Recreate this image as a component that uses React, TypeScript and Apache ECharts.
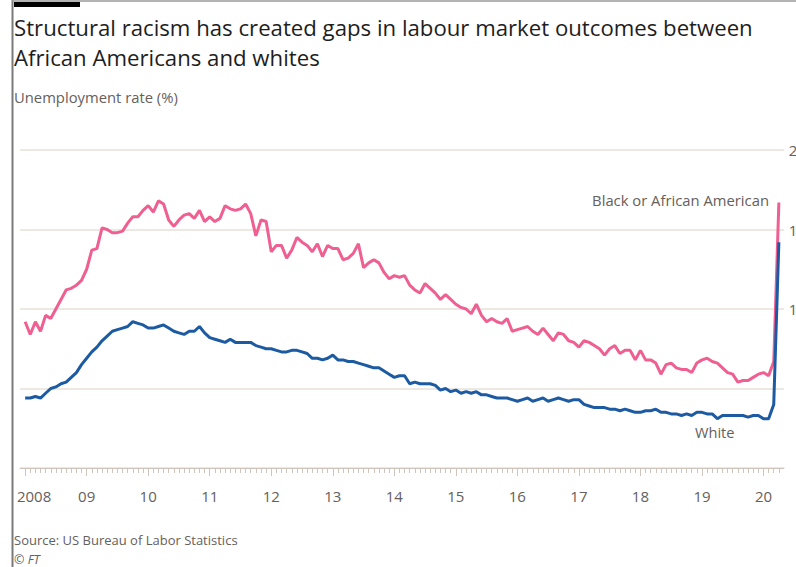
import React, { useEffect, useRef } from "react";
import * as echarts from "echarts";

// ---- data (monthly, Jan 2008 – Apr 2020, unemployment rate %) ----
const startYear = 2008;
const yTicks = [0, 5, 10, 15, 20];

const blackRate = [
  // 2008
  9.2, 8.4, 9.2, 8.6, 9.6, 9.4, 10.0, 10.6, 11.2, 11.3, 11.5, 11.8,
  // 2009
  12.5, 13.7, 13.8, 15.1, 15.0, 14.8, 14.8, 14.9, 15.4, 15.8, 15.8, 16.2,
  // 2010
  16.5, 16.1, 16.8, 16.6, 15.6, 15.2, 15.6, 15.9, 16.0, 15.7, 16.2, 15.5,
  // 2011
  15.8, 15.5, 15.7, 16.5, 16.3, 16.2, 16.3, 16.6, 16.0, 14.6, 15.6, 15.5,
  // 2012
  13.6, 14.0, 14.0, 13.2, 13.7, 14.5, 14.2, 14.0, 13.6, 14.1, 13.3, 14.0,
  // 2013
  13.8, 13.8, 13.1, 13.2, 13.5, 14.1, 12.6, 12.9, 13.1, 12.9, 12.3, 11.9,
  // 2014
  12.1, 12.0, 12.1, 11.5, 11.2, 11.0, 11.6, 11.3, 11.0, 10.6, 10.9, 10.6,
  // 2015
  10.3, 10.1, 10.0, 9.7, 10.3, 9.6, 9.2, 9.4, 9.2, 9.1, 9.4, 8.6,
  // 2016
  8.7, 8.8, 8.9, 8.6, 8.4, 8.8, 8.4, 8.0, 8.5, 8.4, 8.0, 7.9,
  // 2017
  7.6, 8.0, 7.9, 7.7, 7.5, 7.1, 7.5, 7.7, 7.2, 7.4, 7.4, 6.8,
  // 2018
  7.4, 6.8, 6.8, 6.6, 5.9, 6.5, 6.6, 6.3, 6.2, 6.2, 6.0, 6.6,
  // 2019
  6.8, 6.9, 6.7, 6.6, 6.3, 6.0, 5.9, 5.4, 5.5, 5.5, 5.7, 5.9,
  // 2020
  6.0, 5.8, 6.7, 16.7,
];

const whiteRate = [
  // 2008
  4.4, 4.4, 4.5, 4.4, 4.7, 5.0, 5.1, 5.3, 5.4, 5.7, 6.0, 6.5,
  // 2009
  6.9, 7.3, 7.6, 8.0, 8.3, 8.6, 8.7, 8.8, 8.9, 9.2, 9.1, 9.0,
  // 2010
  8.8, 8.8, 8.9, 9.0, 8.8, 8.6, 8.5, 8.4, 8.6, 8.6, 8.9, 8.5,
  // 2011
  8.2, 8.1, 8.0, 7.9, 8.1, 7.9, 7.9, 7.9, 7.9, 7.7, 7.6, 7.5,
  // 2012
  7.5, 7.4, 7.3, 7.3, 7.4, 7.4, 7.3, 7.2, 6.9, 6.9, 6.8, 6.9,
  // 2013
  7.1, 6.8, 6.8, 6.7, 6.7, 6.6, 6.5, 6.4, 6.3, 6.3, 6.1, 5.9,
  // 2014
  5.7, 5.8, 5.8, 5.3, 5.4, 5.3, 5.3, 5.3, 5.2, 4.9, 5.0, 4.8,
  // 2015
  4.9, 4.7, 4.8, 4.7, 4.8, 4.6, 4.6, 4.5, 4.4, 4.4, 4.4, 4.3,
  // 2016
  4.2, 4.3, 4.4, 4.2, 4.3, 4.4, 4.2, 4.3, 4.4, 4.3, 4.2, 4.3,
  // 2017
  4.3, 4.0, 3.9, 3.8, 3.8, 3.8, 3.7, 3.7, 3.6, 3.7, 3.6, 3.5,
  // 2018
  3.5, 3.6, 3.6, 3.7, 3.5, 3.5, 3.4, 3.4, 3.3, 3.4, 3.3, 3.5,
  // 2019
  3.5, 3.4, 3.4, 3.1, 3.3, 3.3, 3.3, 3.3, 3.3, 3.2, 3.3, 3.3,
  // 2020
  3.1, 3.1, 4.0, 14.2,
];

// month categories with one empty padding month at each end
const months: string[] = ["2007-12"];
for (let i = 0; i < blackRate.length; i++) {
  const y = startYear + Math.floor(i / 12);
  const m = (i % 12) + 1;
  months.push(`${y}-${String(m).padStart(2, "0")}`);
}
months.push("2020-05");

const isInner = (i: number) => i > 0 && i < months.length - 1;
const isYearStart = (i: number, v: string) => isInner(i) && String(v).endsWith("-01");

const GREY = "#66605c";
const GRID = "#e9e1d9";
const TICK = "#cfc5bc";
const PINK = "#ef5f91";
const BLUE = "#1c5aa2";
const FONT = "'Open Sans', 'Noto Sans', sans-serif";

export default function App() {
  const ref = useRef<HTMLDivElement>(null);

  useEffect(() => {
    if (!ref.current) return;
    const chart = echarts.init(ref.current, undefined, { renderer: "svg" });
    chart.setOption({
      animation: false,
      backgroundColor: "#ffffff",
      textStyle: { fontFamily: FONT },
      grid: {
        left: 20,
        right: 12,
        top: 150,
        bottom: 99,
        containLabel: false,
        outerBoundsMode: "none",
      },
      xAxis: [
        {
          type: "category",
          data: months,
          boundaryGap: false,
          position: "bottom",
          axisLine: { show: true, lineStyle: { color: TICK, width: 1 } },
          axisTick: {
            show: true,
            interval: (i: number, v: string) => isYearStart(i, v),
            length: 8,
            lineStyle: { color: TICK, width: 1 },
          },
          axisLabel: {
            interval: (i: number, v: string) => isYearStart(i, v),
            margin: 20,
            color: GREY,
            fontSize: 15,
            fontFamily: FONT,
            formatter: (v: string) => {
              const yr = v.slice(0, 4);
              if (yr === String(startYear)) return "{first|" + yr + "}";
              return yr.slice(2);
            },
            rich: {
              first: { padding: [0, 0, 0, 18], color: GREY, fontSize: 15, fontFamily: FONT },
            },
          },
          splitLine: { show: false },
        },
        {
          type: "category",
          data: months,
          boundaryGap: false,
          position: "bottom",
          axisLine: { show: false },
          axisTick: {
            show: true,
            interval: (i: number) => isInner(i),
            length: 5,
            lineStyle: { color: TICK, width: 1 },
          },
          axisLabel: { show: false },
          splitLine: { show: false },
        },
      ],
      yAxis: {
        type: "value",
        position: "right",
        min: yTicks[0],
        max: yTicks[yTicks.length - 1],
        interval: 5,
        axisLine: { show: false },
        axisTick: { show: false },
        splitLine: { show: true, lineStyle: { color: GRID, width: 1.5 } },
        axisLabel: {
          align: "right",
          margin: 22,
          color: GREY,
          fontSize: 15,
          fontFamily: FONT,
          formatter: (v: number) => String(v),
        },
      },
      series: [
        {
          name: "Black or African American",
          type: "line",
          data: [null, ...blackRate, null],
          symbol: "none",
          connectNulls: false,
          lineStyle: { color: PINK, width: 3 },
          itemStyle: { color: PINK },
          z: 3,
        },
        {
          name: "White",
          type: "line",
          data: [null, ...whiteRate, null],
          symbol: "none",
          connectNulls: false,
          lineStyle: { color: BLUE, width: 3 },
          itemStyle: { color: BLUE },
          z: 4,
        },
      ],
      graphic: [
        { type: "line", shape: { x1: 12.5, y1: 0, x2: 12.5, y2: 567 }, style: { stroke: "#7a7a7a", lineWidth: 2 }, z: 10 },
        { type: "line", shape: { x1: 12, y1: 1, x2: 796, y2: 1 }, style: { stroke: "#9a9a9a", lineWidth: 1.5 }, z: 10 },
        { type: "rect", shape: { x: 14, y: 2, width: 66, height: 5 }, style: { fill: "#000000" }, z: 11 },
        {
          type: "text", x: 14, y: 27,
          style: { text: "Structural racism has created gaps in labour market outcomes between", fontSize: 22.2, fontFamily: FONT, fill: "#1e1e1e", verticalAlign: "middle", align: "left" },
        },
        {
          type: "text", x: 14, y: 57,
          style: { text: "African Americans and whites", fontSize: 22.2, fontFamily: FONT, fill: "#1e1e1e", verticalAlign: "middle", align: "left" },
        },
        {
          type: "text", x: 14, y: 97,
          style: { text: "Unemployment rate (%)", fontSize: 14.8, fontFamily: FONT, fill: GREY, verticalAlign: "middle", align: "left" },
        },
        {
          type: "text", x: 769, y: 199.5,
          style: { text: "Black or African American", fontSize: 14.8, fontFamily: FONT, fill: GREY, verticalAlign: "middle", align: "right" },
        },
        {
          type: "text", x: 695, y: 432,
          style: { text: "White", fontSize: 14.6, fontFamily: FONT, fill: GREY, verticalAlign: "middle", align: "left" },
        },
        {
          type: "text", x: 14, y: 540,
          style: { text: "Source: US Bureau of Labor Statistics", fontSize: 13, fontFamily: FONT, fill: GREY, verticalAlign: "middle", align: "left" },
        },
        {
          type: "text", x: 14, y: 559,
          style: { text: "© FT", fontSize: 12.5, fontStyle: "italic", fontFamily: FONT, fill: GREY, verticalAlign: "middle", align: "left" },
        },
      ],
    });
    return () => chart.dispose();
  }, []);

  return (
    <div style={{ position: "fixed", left: 0, top: 0, width: 796, height: 567, overflow: "hidden", background: "#fff" }}>
      <div ref={ref} style={{ width: 796, height: 567 }} />
    </div>
  );
}
